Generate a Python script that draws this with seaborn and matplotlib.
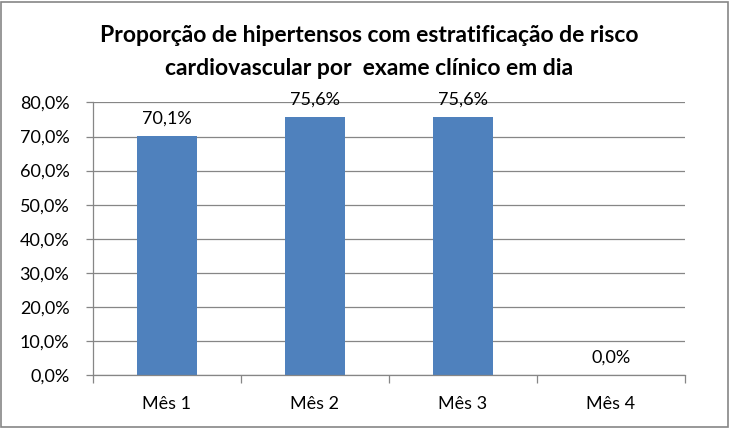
import matplotlib
matplotlib.use("Agg")
import matplotlib.pyplot as plt
import seaborn as sns
import pandas as pd
from matplotlib.patches import Rectangle

categories = ["Mês 1", "Mês 2", "Mês 3", "Mês 4"]
values = [70.1, 75.6, 75.6, 0.0]
yticks = [0, 10, 20, 30, 40, 50, 60, 70, 80]
title = "Proporção de hipertensos com estratificação de risco\ncardiovascular por  exame clínico em dia"

sns.set_theme(style="white")
plt.rcParams['font.family'] = ['Lato', 'DejaVu Sans']

df = pd.DataFrame({"cat": categories, "val": values})

fig = plt.figure(figsize=(7.3, 4.28), dpi=100)
ax = fig.add_axes([93/730, 1 - 375/428, (685-93)/730, (375-102.5)/428])

sns.barplot(data=df, x="cat", y="val", ax=ax, color="#4F81BD", width=0.4,
            saturation=1, edgecolor="none")

ax.set_xlim(-0.5, 3.5)
ax.set_ylim(0, 80)
ax.set_yticks(yticks)
ax.set_yticklabels([f"{v:.1f}%".replace(".", ",") for v in yticks], fontsize=13, color="#000000")
ax.set_xticks(range(len(categories)))
ax.set_xticklabels(categories, fontsize=13, color="#000000")
ax.set_xlabel("")
ax.set_ylabel("")
ax.yaxis.grid(True, color="#868686", linewidth=0.9)
ax.set_axisbelow(True)

for s in ["top", "right"]:
    ax.spines[s].set_visible(False)
for s in ["left", "bottom"]:
    ax.spines[s].set_color("#868686")
    ax.spines[s].set_linewidth(0.9)

ax.tick_params(axis="y", which="major", length=5, color="#868686", width=0.9, pad=12, left=True)
ax.tick_params(axis="x", which="major", length=0, pad=15)
# category boundary ticks
ax.set_xticks([-0.5, 0.5, 1.5, 2.5, 3.5], minor=True)
ax.tick_params(axis="x", which="minor", length=6, color="#868686", width=0.9, bottom=True)

for i, v in enumerate(values):
    ax.annotate(f"{v:.1f}%".replace(".", ","), (i, v), xytext=(0, 7),
                textcoords="offset points", ha="center", va="bottom", fontsize=13,
                color="#000000")

fig.text(369/730, 1 - 52/428, title, ha="center", va="center", fontsize=16.5,
         fontweight="bold", linespacing=1.65, color="#000000")

fig.patches.append(Rectangle((1/730, 1/428), 727/730, 425/428, transform=fig.transFigure,
                             fill=False, edgecolor="#868686", linewidth=1.2))

fig.savefig("out.png", dpi=100)
